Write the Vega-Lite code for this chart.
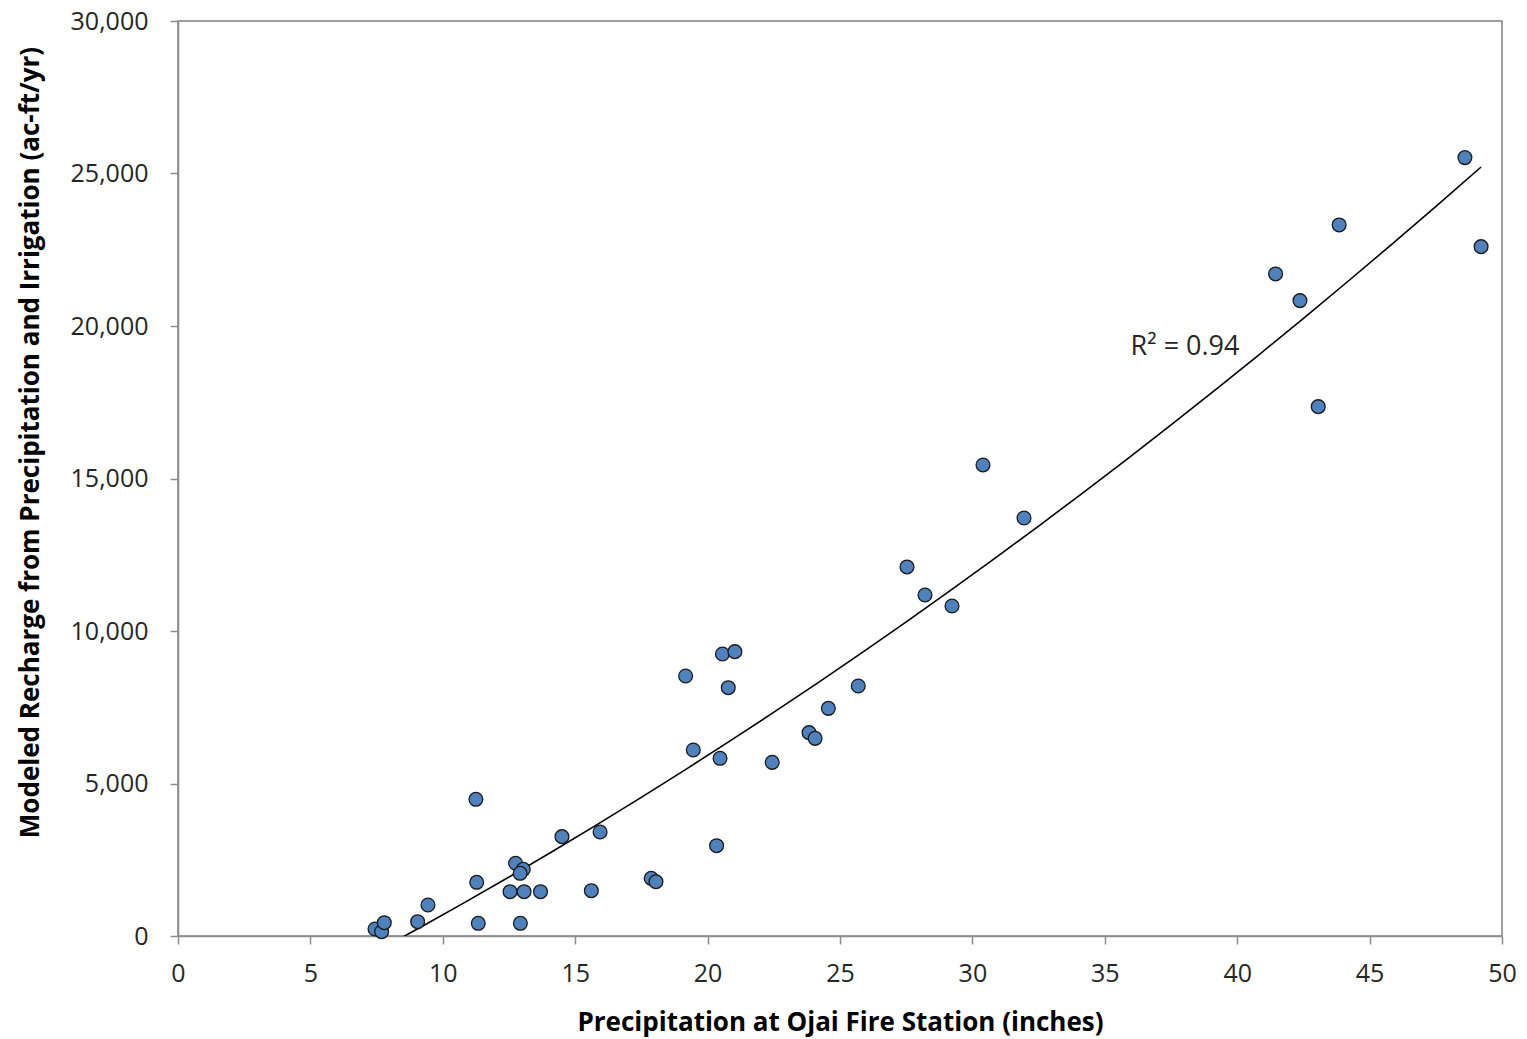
{
  "$schema": "https://vega.github.io/schema/vega-lite/v6.json",
  "autosize": "none",
  "width": 1324,
  "height": 915,
  "padding": {"left": 178, "top": 21, "right": 25, "bottom": 103},
  "background": "white",
  "config": {
    "view": {"stroke": "#7f7f7f", "strokeWidth": 1.5},
    "font": "Open Sans",
    "axis": {
      "grid": false,
      "labelFlush": false,
      "labelOverlap": false,
      "domainColor": "#8c8c8c",
      "domainWidth": 1.5,
      "tickColor": "#8c8c8c",
      "tickWidth": 1.5,
      "tickSize": 8,
      "labelFont": "Open Sans",
      "labelFontSize": 25,
      "labelColor": "#262626",
      "titleFont": "Open Sans",
      "titleFontSize": 26,
      "titleFontWeight": "bold",
      "titleColor": "#000000"
    }
  },
  "datasets": {
    "pts": [
      {"precip": 7.44, "recharge": 230},
      {"precip": 7.69, "recharge": 141},
      {"precip": 7.79, "recharge": 436},
      {"precip": 9.05, "recharge": 469},
      {"precip": 9.44, "recharge": 1016},
      {"precip": 11.25, "recharge": 4482},
      {"precip": 11.28, "recharge": 1760},
      {"precip": 11.34, "recharge": 416},
      {"precip": 12.54, "recharge": 1453},
      {"precip": 13.07, "recharge": 1453},
      {"precip": 13.69, "recharge": 1453},
      {"precip": 12.75, "recharge": 2384},
      {"precip": 13.04, "recharge": 2186},
      {"precip": 12.92, "recharge": 2055},
      {"precip": 12.93, "recharge": 416},
      {"precip": 14.5, "recharge": 3257},
      {"precip": 15.94, "recharge": 3410},
      {"precip": 15.61, "recharge": 1486},
      {"precip": 17.87, "recharge": 1891},
      {"precip": 18.05, "recharge": 1781},
      {"precip": 19.17, "recharge": 8525},
      {"precip": 20.56, "recharge": 9247},
      {"precip": 21.03, "recharge": 9323},
      {"precip": 20.78, "recharge": 8142},
      {"precip": 19.46, "recharge": 6099},
      {"precip": 20.47, "recharge": 5826},
      {"precip": 22.44, "recharge": 5694},
      {"precip": 23.83, "recharge": 6667},
      {"precip": 24.06, "recharge": 6480},
      {"precip": 24.56, "recharge": 7464},
      {"precip": 25.69, "recharge": 8197},
      {"precip": 20.34, "recharge": 2961},
      {"precip": 27.53, "recharge": 12100},
      {"precip": 28.21, "recharge": 11180},
      {"precip": 29.23, "recharge": 10820},
      {"precip": 30.4, "recharge": 15444},
      {"precip": 31.95, "recharge": 13706},
      {"precip": 41.45, "recharge": 21707},
      {"precip": 42.37, "recharge": 20832},
      {"precip": 43.06, "recharge": 17356},
      {"precip": 43.85, "recharge": 23314},
      {"precip": 48.6, "recharge": 25521},
      {"precip": 49.21, "recharge": 22602}
    ]
  },
  "layer": [
    {
      "data": {"name": "pts"},
      "transform": [
        {"regression": "recharge", "on": "precip", "method": "poly", "order": 2}
      ],
      "mark": {"type": "line", "color": "#000000", "strokeWidth": 1.6, "clip": true},
      "encoding": {
        "x": {"field": "precip", "type": "quantitative"},
        "y": {"field": "recharge", "type": "quantitative"}
      }
    },
    {
      "data": {"name": "pts"},
      "mark": {"type": "point", "shape": "circle", "filled": true, "fill": "#4F81BD", "stroke": "#1a1a1a", "strokeWidth": 1.3, "size": 190, "opacity": 1},
      "encoding": {
        "x": {
          "field": "precip", "type": "quantitative",
          "scale": {"domain": [0, 50], "nice": false, "zero": true},
          "axis": {
            "values": [0, 5, 10, 15, 20, 25, 30, 35, 40, 45, 50],
            "title": "Precipitation at Ojai Fire Station (inches)",
            "labelPadding": 17,
            "titleBaseline": "middle",
            "titleY": 86
          }
        },
        "y": {
          "field": "recharge", "type": "quantitative",
          "scale": {"domain": [0, 30000], "nice": false},
          "axis": {
            "values": [0, 5000, 10000, 15000, 20000, 25000, 30000],
            "format": ",d",
            "title": "Modeled Recharge from Precipitation and Irrigation (ac-ft/yr)",
            "labelPadding": 22,
            "titleAngle": -90,
            "titleBaseline": "middle",
            "titleX": -148,
            "titleY": 421
          }
        }
      }
    },
    {
      "data": {"values": [{"precip": 38.03, "recharge": 19313, "label": "R² = 0.94"}]},
      "mark": {"type": "text", "fontSize": 27, "font": "Open Sans", "color": "#262626", "align": "center", "baseline": "middle"},
      "encoding": {
        "x": {"field": "precip", "type": "quantitative"},
        "y": {"field": "recharge", "type": "quantitative"},
        "text": {"field": "label"}
      }
    }
  ]
}
